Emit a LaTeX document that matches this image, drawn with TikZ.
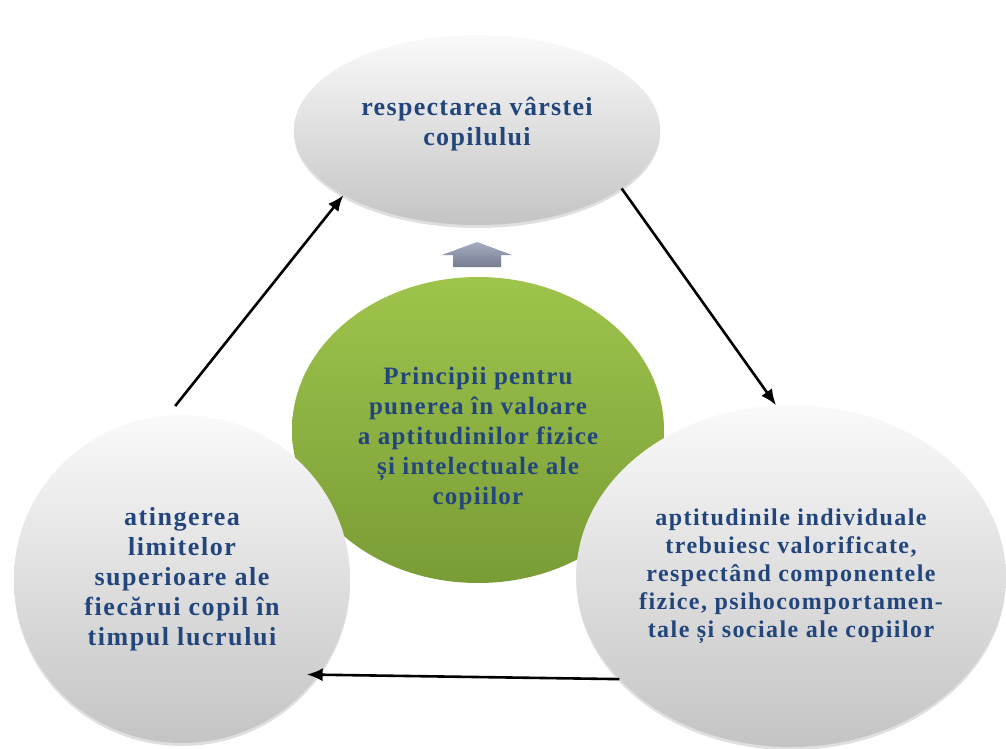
\documentclass[tikz,border=0pt]{standalone}
\usepackage{fontspec}
\setmainfont{Liberation Serif}
\usepackage{xcolor}
\usetikzlibrary{shapes,arrows,arrows.meta}
\usetikzlibrary{calc}
\usetikzlibrary{shadows}
\definecolor{textblue}{RGB}{34,70,124}
\definecolor{greytop}{RGB}{250,250,250}
\definecolor{greybot}{RGB}{196,196,196}
\definecolor{greentop}{RGB}{158,196,76}
\definecolor{greenbot}{RGB}{122,156,54}
\definecolor{arrowtop}{RGB}{166,172,192}
\definecolor{arrowbot}{RGB}{118,124,146}

\begin{document}
\begin{tikzpicture}[x=1pt,y=-1pt,
	grey_node/.style={ellipse,top color=greytop,bottom color=greybot,inner sep=0pt,align=center,text=textblue,
		drop shadow={opacity=0.25,shadow xshift=0pt,shadow yshift=-3pt}},
	green_node/.style={ellipse,top color=greentop,bottom color=greenbot,inner sep=0pt,align=center,text=textblue},
	every edge/.style={draw,line width=2.6pt,-{Latex[length=16pt,width=13pt]}}]
	
	\useasboundingbox (0,0) rectangle (1006,749);
	
	\node[green_node, minimum width=372pt, minimum height=306pt, font=\bfseries\fontsize{25}{30}\selectfont\addfontfeature{LetterSpace=5}] (4) at (478,430) {\rule{0pt}{34pt}Principii pentru\\punerea în valoare\\a aptitudinilor fizice\\și intelectuale ale\\copiilor};
	\node[grey_node, minimum width=366pt, minimum height=190pt, font=\bfseries\fontsize{26}{30}\selectfont\addfontfeature{LetterSpace=5}] (1) at (477,130) {respectarea vârstei\\copilului\rule[-18pt]{0pt}{18pt}};
	\node[grey_node, minimum width=426pt, minimum height=342pt, font=\bfseries\fontsize{24}{28}\selectfont\addfontfeature{LetterSpace=6}] (2) at (791,576) {aptitudinile individuale\\trebuiesc valorificate,\\respectând componentele\\fizice, psihocomportamen-\\tale și sociale ale copiilor};
	\node[grey_node, minimum width=336pt, minimum height=328pt, font=\bfseries\fontsize{26}{30}\selectfont\addfontfeature{LetterSpace=6}] (3) at (182,579) {atingerea\\limitelor\\superioare ale\\fiecărui copil în\\timpul lucrului};
	
	\shade[top color=arrowtop,bottom color=arrowbot] (453,267) -- (453,255) -- (442,255) -- (477,242) -- (512,255) -- (501,255) -- (501,267) -- cycle;
	
	\path
	(3.95) edge[shorten <=12pt] (1.206)
	(1.-22) edge (2.95)
	(2.211) edge[shorten >=-12pt] (3.-35);
\end{tikzpicture}
\end{document}
